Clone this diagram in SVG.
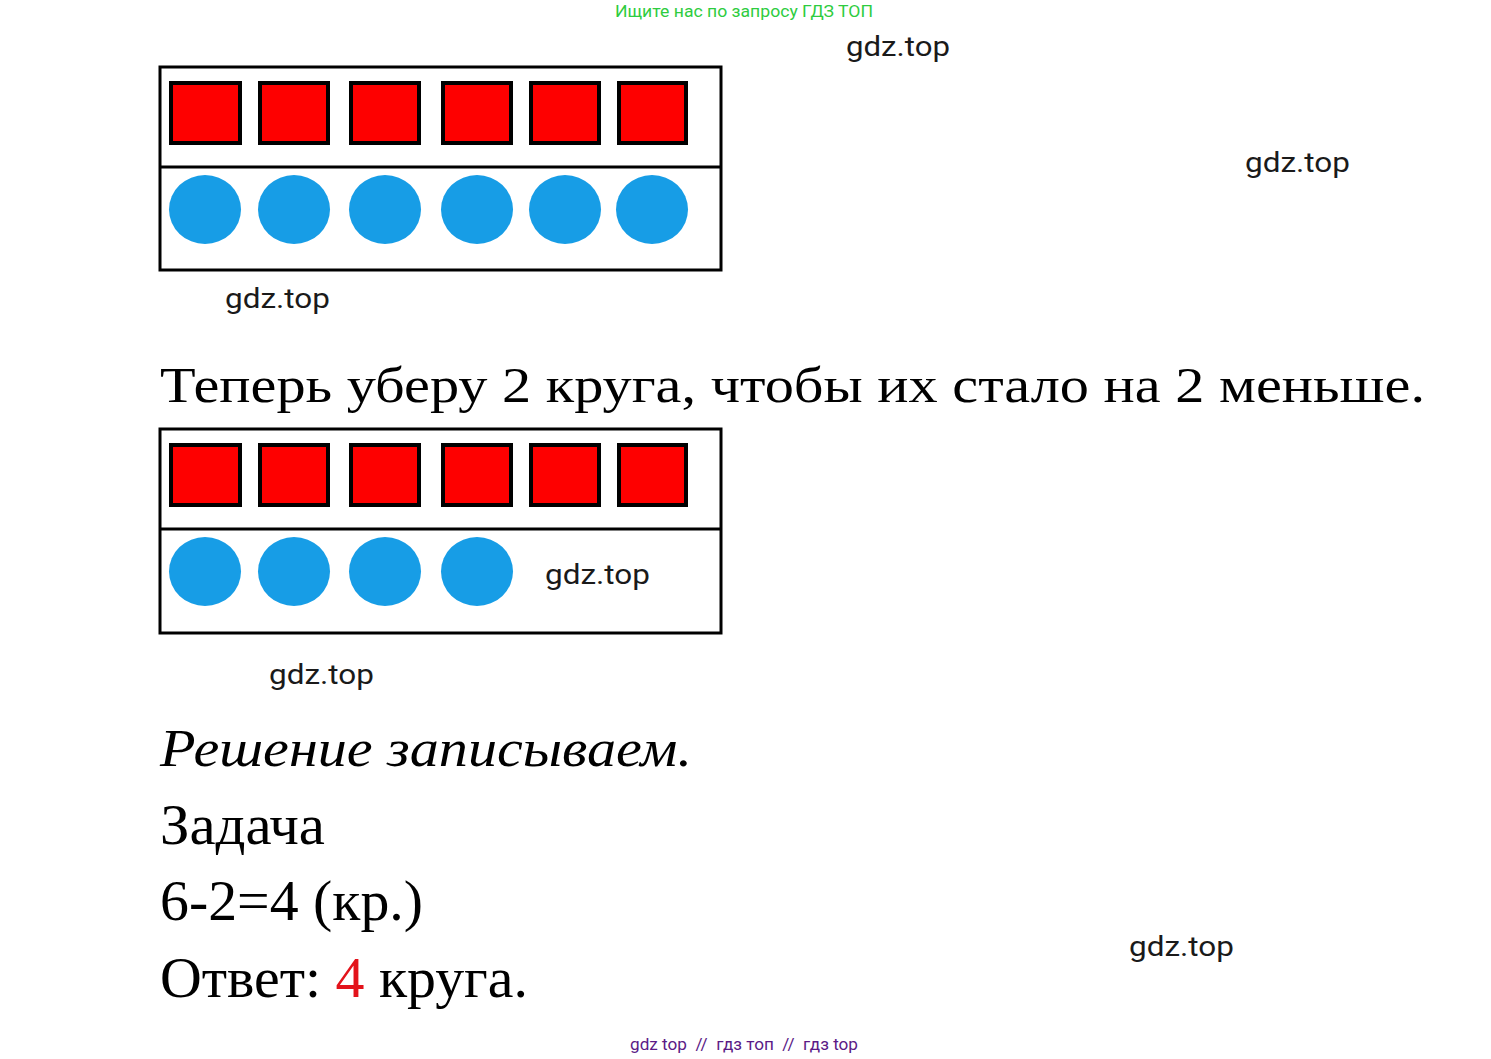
<svg xmlns="http://www.w3.org/2000/svg" width="1491" height="1059" viewBox="0 0 1491 1059">
<style>
.box{fill:#fff;stroke:#000;stroke-width:3}
.div{stroke:#000;stroke-width:3}
.sq{fill:#fe0000;stroke:#000;stroke-width:4}
.ci{fill:#179de6}
.wm{font-family:Roboto,"Noto Sans",sans-serif;font-size:28px;fill:#1a1a1a}
.big{font-family:"Liberation Serif","Times New Roman",serif;fill:#000}
</style>
<rect width="1491" height="1059" fill="#fff"/>
<g id="header">
<text x="615" y="17" font-family="Roboto,'Noto Sans',sans-serif" font-size="16" fill="#2ecc40" textLength="258" lengthAdjust="spacingAndGlyphs">Ищите нас по запросу ГДЗ ТОП</text>
</g>
<g id="panel1">
<rect class="box" x="160" y="67" width="561" height="203"/>
<line class="div" x1="160" y1="167" x2="721" y2="167"/>
<rect class="sq" x="171" y="83" width="69" height="60"/>
<rect class="sq" x="260" y="83" width="68" height="60"/>
<rect class="sq" x="351" y="83" width="68" height="60"/>
<rect class="sq" x="443" y="83" width="68" height="60"/>
<rect class="sq" x="531" y="83" width="68" height="60"/>
<rect class="sq" x="619" y="83" width="67" height="60"/>
<ellipse class="ci" cx="205" cy="209.5" rx="36" ry="34.5"/>
<ellipse class="ci" cx="294" cy="209.5" rx="36" ry="34.5"/>
<ellipse class="ci" cx="385" cy="209.5" rx="36" ry="34.5"/>
<ellipse class="ci" cx="477" cy="209.5" rx="36" ry="34.5"/>
<ellipse class="ci" cx="565" cy="209.5" rx="36" ry="34.5"/>
<ellipse class="ci" cx="652" cy="209.5" rx="36" ry="34.5"/>
</g>
<g id="sentence">
<text class="big" x="160" y="402" font-size="50" textLength="1265" lengthAdjust="spacingAndGlyphs">Теперь уберу 2 круга, чтобы их стало на 2 меньше.</text>
</g>
<g id="panel2">
<rect class="box" x="160" y="429" width="561" height="204"/>
<line class="div" x1="160" y1="529" x2="721" y2="529"/>
<rect class="sq" x="171" y="445" width="69" height="60"/>
<rect class="sq" x="260" y="445" width="68" height="60"/>
<rect class="sq" x="351" y="445" width="68" height="60"/>
<rect class="sq" x="443" y="445" width="68" height="60"/>
<rect class="sq" x="531" y="445" width="68" height="60"/>
<rect class="sq" x="619" y="445" width="67" height="60"/>
<ellipse class="ci" cx="205" cy="571.5" rx="36" ry="34.5"/>
<ellipse class="ci" cx="294" cy="571.5" rx="36" ry="34.5"/>
<ellipse class="ci" cx="385" cy="571.5" rx="36" ry="34.5"/>
<ellipse class="ci" cx="477" cy="571.5" rx="36" ry="34.5"/>
</g>
<g id="solution">
<text class="big" x="160" y="766" font-size="52" font-style="italic" textLength="532" lengthAdjust="spacingAndGlyphs">Решение записываем.</text>
<text class="big" x="160" y="844" font-size="56" textLength="165" lengthAdjust="spacingAndGlyphs">Задача</text>
<text class="big" x="160" y="920" font-size="56" textLength="263" lengthAdjust="spacingAndGlyphs">6-2=4 (кр.)</text>
<text class="big" x="160" y="997" font-size="56" textLength="368" lengthAdjust="spacingAndGlyphs">Ответ: <tspan fill="#e3131b">4</tspan> круга.</text>
</g>
<g id="watermarks">
<text class="wm" x="846" y="56" textLength="104" lengthAdjust="spacingAndGlyphs">gdz.top</text>
<text class="wm" x="1245" y="172" textLength="105" lengthAdjust="spacingAndGlyphs">gdz.top</text>
<text class="wm" x="225" y="308" textLength="105" lengthAdjust="spacingAndGlyphs">gdz.top</text>
<text class="wm" x="545" y="584" textLength="105" lengthAdjust="spacingAndGlyphs">gdz.top</text>
<text class="wm" x="269" y="684" textLength="105" lengthAdjust="spacingAndGlyphs">gdz.top</text>
<text class="wm" x="1129" y="956" textLength="105" lengthAdjust="spacingAndGlyphs">gdz.top</text>
</g>
<g id="footer">
<text x="630" y="1050" font-family="Roboto,'Noto Sans',sans-serif" font-size="16" fill="#5b1a86" xml:space="preserve" textLength="228" lengthAdjust="spacingAndGlyphs">gdz top  //  гдз топ  //  гдз top</text>
</g>
</svg>
